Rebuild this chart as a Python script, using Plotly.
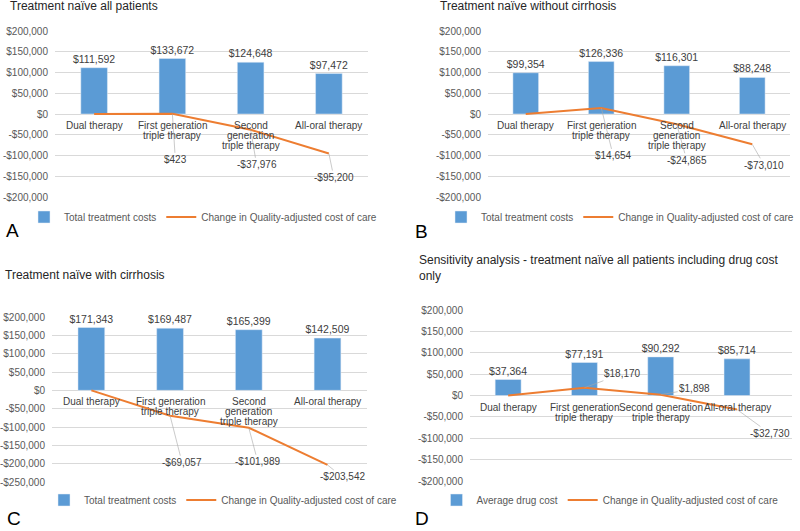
import plotly.graph_objects as go

# ---------------- data ----------------
categories = ["Dual therapy", "First generation triple therapy",
              "Second generation triple therapy", "All-oral therapy"]
cat_labels_abc = [["Dual therapy"], ["First generation", "triple therapy"],
                  ["Second", "generation", "triple therapy"], ["All-oral therapy"]]
cat_labels_d = [["Dual therapy"], ["First generation", "triple therapy"],
                ["Second generation", "triple therapy"], ["All-oral therapy"]]

a_costs = [111592, 133672, 124648, 97472]
a_change = [0, 423, -37976, -95200]
b_costs = [99354, 126336, 116301, 88248]
b_change = [0, 14654, -24865, -73010]
c_costs = [171343, 169487, 165399, 142509]
c_change = [0, -69057, -101989, -203542]
d_costs = [37364, 77191, 90292, 85714]
d_change = [0, 18170, 1898, -32730]

ticks_abd = [200000, 150000, 100000, 50000, 0, -50000, -100000, -150000, -200000]
ticks_c = [200000, 150000, 100000, 50000, 0, -50000, -100000, -150000, -200000, -250000]

bar_names = ["Total treatment costs", "Total treatment costs", "Total treatment costs", "Average drug cost"]
line_name = "Change in Quality-adjusted cost of care"
titles = ["Treatment naïve all patients", "Treatment naïve without cirrhosis",
          "Treatment naïve with cirrhosis",
          "Sensitivity analysis - treatment naïve all patients including drug cost<br>only"]
letters = ["A", "B", "C", "D"]

# ---------------- style ----------------
W, H = 800, 531
FONT = "Liberation Sans, Arial, sans-serif"
BLUE = "#5B9BD5"
ORANGE = "#ED7D31"
GRID = "#D9D9D9"
TICK = "#595959"
LABEL = "#404040"


def fmt(v):
    s = "${:,}".format(abs(int(v)))
    return "-" + s if v < 0 else s


def px_x(p):
    return p / W


def px_y(p):
    return 1 - p / H


panels = [
    dict(costs=a_costs, change=a_change, ticks=ticks_abd, cats=cat_labels_abc,
         xd=(55, 368), yd=(31, 197), title=(8, 6), letter=(4, 230), legend=(203, 217),
         offs=[None, (3, 46), (6, 35), (5, 24)]),
    dict(costs=b_costs, change=b_change, ticks=ticks_abd, cats=cat_labels_abc,
         xd=(488, 790), yd=(31, 197), title=(438, 6), letter=(413, 231), legend=(620, 217),
         offs=[None, (12, 48), (10, 36), (12, 21)]),
    dict(costs=c_costs, change=c_change, ticks=ticks_c, cats=cat_labels_abc,
         xd=(52, 367), yd=(317, 482), title=(3, 275), letter=(5, 518), legend=(223, 500),
         offs=[None, (12, 47), (9, 34), (15, 12)]),
    dict(costs=d_costs, change=d_change, ticks=ticks_abd, cats=cat_labels_d,
         xd=(470, 792), yd=(310, 481), title=(417, 251), letter=(413, 518), legend=(610, 500),
         offs=[None, (38, -14), (34, -6), (33, 24)]),
]

fig = go.Figure()
layout = dict(width=W, height=H, margin=dict(l=0, r=0, t=0, b=0, autoexpand=False),
              paper_bgcolor="white", plot_bgcolor="white",
              font=dict(family=FONT, size=10, color=TICK), barmode="group")
annotations = []

for i, p in enumerate(panels):
    n = "" if i == 0 else str(i + 1)
    xa, ya = "x" + n, "y" + n
    leg = "legend" + n
    fig.add_trace(go.Bar(x=categories, y=p["costs"], name=bar_names[i], marker_color=BLUE,
                         width=0.34, xaxis=xa, yaxis=ya, legend=leg,
                         text=[fmt(v) for v in p["costs"]], textposition="outside",
                         constraintext="none", cliponaxis=False,
                         textfont=dict(size=10.5, color=LABEL, family=FONT)))
    fig.add_trace(go.Scatter(x=categories, y=p["change"], name=line_name, mode="lines",
                             line=dict(color=ORANGE, width=2), xaxis=xa, yaxis=ya,
                             legend=leg, cliponaxis=False))
    t = p["ticks"]
    layout["xaxis" + n] = dict(domain=[px_x(p["xd"][0]), px_x(p["xd"][1])], anchor=ya,
                               showticklabels=False, showgrid=False, zeroline=False,
                               showline=False, fixedrange=True,
                               categoryorder="array", categoryarray=categories)
    layout["yaxis" + n] = dict(domain=[px_y(p["yd"][1]), px_y(p["yd"][0])], anchor=xa,
                               range=[min(t), max(t)], tickvals=t, ticktext=[fmt(v) for v in t],
                               showgrid=True, gridcolor=GRID, gridwidth=1,
                               zeroline=True, zerolinecolor=GRID, zerolinewidth=1,
                               showline=False, ticks="", ticklabelstandoff=6,
                               tickfont=dict(size=10, color=TICK, family=FONT))
    layout[leg] = dict(orientation="h", x=px_x(p["legend"][0]), y=px_y(p["legend"][1]),
                       xanchor="center", yanchor="middle", bgcolor="rgba(0,0,0,0)",
                       font=dict(size=10, color=TICK, family=FONT),
                       itemwidth=30, tracegroupgap=0, traceorder="normal")
    # category labels at the zero line
    for ci, lines in enumerate(p["cats"]):
        for li, txt in enumerate(lines):
            annotations.append(dict(xref=xa, yref=ya, x=categories[ci], y=0, text=txt,
                                    showarrow=False, yanchor="top", yshift=-4 - 10 * li,
                                    font=dict(size=10, color=LABEL, family=FONT)))
    # line data labels with leader lines
    for ci, v in enumerate(p["change"]):
        off = p["offs"][ci]
        if off is None:
            continue
        annotations.append(dict(xref=xa, yref=ya, x=categories[ci], y=v, text=fmt(v),
                                showarrow=True, arrowhead=0, arrowwidth=0.6,
                                arrowcolor="#A6A6A6", ax=off[0], ay=off[1],
                                font=dict(size=10, color=LABEL, family=FONT)))
    # panel title
    annotations.append(dict(xref="paper", yref="paper", x=px_x(p["title"][0]),
                            y=px_y(p["title"][1]), text=titles[i], showarrow=False,
                            xanchor="left", yanchor="top" if i == 3 else "middle",
                            align="left",
                            font=dict(size=12, color="#262626", family=FONT)))
    # panel letter
    annotations.append(dict(xref="paper", yref="paper", x=px_x(p["letter"][0]),
                            y=px_y(p["letter"][1]), text=letters[i], showarrow=False,
                            xanchor="left", yanchor="middle",
                            font=dict(size=19, color="#000000", family=FONT)))

layout["annotations"] = annotations
fig.update_layout(**layout)
fig.write_html("out.html", config={"displayModeBar": False},
               post_script="document.body.style.margin='0';document.body.style.overflow='hidden';")
